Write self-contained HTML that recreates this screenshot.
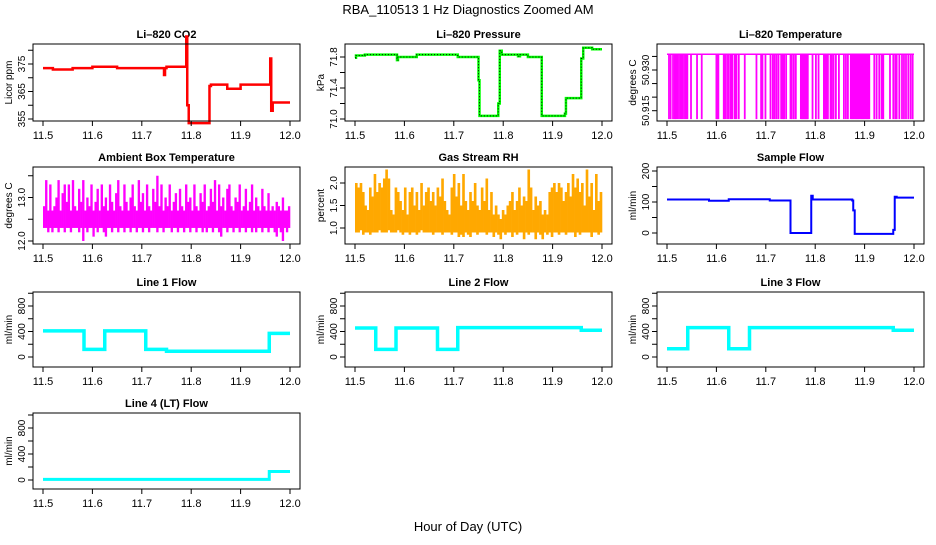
<!DOCTYPE html>
<html><head><meta charset="utf-8"><style>
body{margin:0;background:#fff}
svg text{font-family:"Liberation Sans",Arial,sans-serif}
</style></head><body>
<svg id="chart" width="936" height="540" viewBox="0 0 936 540" xmlns="http://www.w3.org/2000/svg">
<text x="468" y="14" font-size="13" text-anchor="middle">RBA_110513  1 Hz Diagnostics Zoomed AM</text>
<text x="468" y="531" font-size="13" text-anchor="middle">Hour of Day (UTC)</text>
</svg>
<script>
const xTicks = [11.5, 11.6, 11.7, 11.8, 11.9, 12.0];
const xTickLabels = ["11.5", "11.6", "11.7", "11.8", "11.9", "12.0"];

const co2T = [11.5,11.52,11.56,11.6,11.65,11.7,11.745,11.747,11.75,11.79,11.792,11.795,11.837,11.84,11.87,11.873,11.9,11.96,11.962,11.965,11.967];
const co2V = [373.5,373,373.5,374,373.5,373.5,371,373.5,374,385,360,353.5,367,367.5,367.5,366,367.5,377,358,361,361];

const presT = [11.5,11.502,11.52,11.585,11.587,11.59,11.625,11.708,11.75,11.752,11.79,11.793,11.797,11.83,11.834,11.85,11.875,11.878,11.925,11.927,11.958,11.962,11.98];
const presV = [71.79,71.82,71.83,71.76,71.80,71.80,71.83,71.80,71.5,71.04,71.2,71.88,71.83,71.81,71.83,71.80,71.80,71.04,71.07,71.27,71.78,71.92,71.90];

const tempTop = 50.9358;
const tempLow = 50.9119;
const tempDrops = [11.504,11.5074,11.5122,11.5155,11.5176,11.521,11.5243,11.5277,11.5311,11.5345,11.5378,11.5412,11.5486,11.5608,11.5703,11.600,11.602,11.604,11.6149,11.6176,11.6216,11.625,11.629,11.6324,11.6372,11.6405,11.6453,11.6574,11.6811,11.6905,11.6932,11.6993,11.7095,11.7142,11.7176,11.7216,11.7257,11.7311,11.7345,11.7372,11.7412,11.75,11.7527,11.7568,11.7608,11.771,11.773,11.775,11.777,11.779,11.781,11.783,11.785,11.7946,11.8014,11.8068,11.8176,11.8203,11.823,11.8257,11.8311,11.8338,11.8372,11.8419,11.848,11.8581,11.8622,11.8662,11.872,11.8745,11.877,11.8795,11.882,11.8845,11.887,11.8895,11.892,11.8945,11.897,11.8995,11.902,11.9045,11.907,11.9095,11.9196,11.9243,11.9297,11.9345,11.9378,11.9514,11.9581,11.9622,11.9649,11.9703,11.9757,11.9797,11.9838,11.9885,11.9932,11.9973];

const ambHi = [12.8,13.4,12.7,13.3,12.7,12.8,13.0,13.4,12.7,13.1,13.3,12.9,13.3,12.7,13.4,12.8,12.7,13.2,12.9,13.4,12.7,13.0,12.8,13.3,12.7,12.9,13.2,12.7,13.3,12.8,13.0,12.7,13.3,12.9,12.7,13.1,13.4,12.8,12.7,13.3,12.9,12.7,13.0,13.3,12.8,12.7,13.4,12.9,13.1,12.7,13.3,12.8,12.7,13.2,12.9,13.5,12.8,13.3,12.7,13.0,12.8,13.3,12.7,12.9,13.1,12.7,13.2,12.8,12.7,13.3,12.9,13.0,12.7,13.3,12.8,12.7,13.1,12.9,13.3,12.7,12.8,13.2,12.9,13.4,12.7,13.3,12.8,13.0,12.7,13.2,13.3,12.8,12.7,13.0,12.9,13.3,12.7,12.8,13.2,12.7,12.9,13.3,12.7,13.0,12.8,12.7,13.2,12.8,12.7,13.1,12.7,12.8,12.7,12.9,12.8,12.7,13.0,12.7,12.7,12.8];
const ambLo = [12.3,12.3,12.2,12.3,12.2,12.3,12.3,12.2,12.3,12.3,12.2,12.3,12.3,12.2,12.3,12.3,12.3,12.2,12.3,12.0,12.3,12.2,12.3,12.3,12.1,12.3,12.2,12.3,12.3,12.2,12.1,12.3,12.3,12.2,12.3,12.3,12.2,12.3,12.3,12.2,12.3,12.3,12.2,12.3,12.3,12.2,12.3,12.3,12.2,12.3,12.3,12.2,12.3,12.3,12.3,12.2,12.3,12.3,12.2,12.3,12.3,12.3,12.2,12.3,12.3,12.2,12.3,12.3,12.2,12.3,12.3,12.2,12.3,12.3,12.2,12.3,12.3,12.2,12.3,12.2,12.3,12.3,12.2,12.3,12.3,12.2,12.1,12.3,12.3,12.2,12.3,12.3,12.2,12.3,12.3,12.2,12.3,12.3,12.2,12.3,12.3,12.2,12.3,12.2,12.3,12.3,12.2,12.3,12.3,12.2,12.3,12.3,12.2,12.1,12.3,12.2,12.0,12.3,12.2,12.3];

const rhHi = [2.0,1.9,2.0,1.8,1.5,1.4,1.9,1.7,2.2,1.8,2.0,1.9,2.1,2.3,2.1,1.4,1.3,1.9,1.8,1.6,1.4,1.9,1.3,1.8,1.9,1.5,1.8,1.4,2.0,1.5,1.8,1.9,1.6,1.8,1.5,1.9,1.7,2.1,1.6,1.4,1.3,1.9,2.2,1.7,2.0,1.5,2.2,1.6,1.4,1.8,1.6,2.0,1.5,1.4,1.9,1.6,2.1,1.4,1.8,1.3,1.5,1.3,1.2,1.4,1.3,1.5,1.6,1.8,1.4,1.6,1.9,1.5,1.7,1.6,2.3,1.9,1.4,1.7,1.5,1.6,1.3,1.4,1.3,1.8,1.9,2.0,1.8,2.0,1.9,1.6,1.8,2.0,1.7,2.2,1.9,2.1,1.8,2.0,1.5,2.3,1.7,2.0,1.4,2.2,1.6,1.8];
const rhLo = [0.9,0.9,0.95,0.85,0.9,0.9,0.85,0.9,0.9,0.9,0.95,0.9,0.9,0.9,0.95,0.9,0.9,0.9,0.95,0.9,0.85,0.9,0.9,0.85,0.9,0.9,0.85,0.9,0.95,0.9,0.9,0.9,0.9,0.85,0.9,0.9,0.9,0.85,0.9,0.9,0.9,0.85,0.9,0.9,0.8,0.85,0.8,0.9,0.85,0.8,0.9,0.9,0.85,0.9,0.9,0.9,0.85,0.9,0.9,0.8,0.9,0.85,0.75,0.9,0.85,0.9,0.9,0.8,0.9,0.85,0.9,0.9,0.75,0.9,0.85,0.9,0.9,0.75,0.9,0.85,0.75,0.9,0.85,0.9,0.8,0.9,0.9,0.85,0.9,0.9,0.85,0.9,0.9,0.9,0.8,0.9,0.85,0.9,0.9,0.9,0.9,0.8,0.9,0.9,0.85,0.9];

const sfT = [11.5,11.585,11.625,11.708,11.75,11.792,11.795,11.875,11.877,11.88,11.958,11.961,11.965];
const sfV = [108,104,109,105,0,120,108,105,73,-3,10,117,114];

const l1T = [11.5,11.583,11.625,11.708,11.75,11.958];
const l1V = [410,120,410,120,90,370];
const l2T = [11.5,11.542,11.583,11.667,11.708,11.958];
const l2V = [455,120,455,120,460,420];
const l3T = [11.5,11.542,11.625,11.667,11.958];
const l3V = [130,460,130,460,420];
const l4T = [11.5,11.958];
const l4V = [10,130];

const NS = "http://www.w3.org/2000/svg";
const svg = document.getElementById('chart');
const colLeft = [33, 345, 657];
const rowBox = [[44,121],[167,244],[292,367],[413,489]];

function mk(tag, attrs, parent) {
  const e = document.createElementNS(NS, tag);
  for (const k in attrs) e.setAttribute(k, attrs[k]);
  (parent || svg).appendChild(e);
  return e;
}

function panel(cfg) {
  const L = colLeft[cfg.col], T = rowBox[cfg.row][0], B = rowBox[cfg.row][1];
  const g = mk('g', {});
  
  
  const xf = t => L + 10 + (t - 11.5) / 0.5 * 247;
  const yf = v => cfg.p1 + (v - cfg.v1) / (cfg.v2 - cfg.v1) * (cfg.p2 - cfg.p1);
  const cx = L + 133.5;
  const tt = mk('text', {x: cx, y: T - 6, 'font-size': 11, 'font-weight': 'bold', 'text-anchor': 'middle'}, g);
  tt.textContent = cfg.title;
  
  
  const marks = mk('g', {}, g);
  
  
  cfg.draw(marks, xf, yf);
  const box = mk('rect', {x: L, y: T, width: 267, height: B - T, fill: 'none', stroke: '#000', 'stroke-width': 1}, g);
  
  
  const xa = mk('g', {}, g);
  
  
  mk('line', {x1: xf(11.5), x2: xf(12.0), y1: B, y2: B, stroke: '#000'}, xa);
  xTicks.forEach((t, i) => {
    mk('line', {x1: xf(t), x2: xf(t), y1: B, y2: B + 5, stroke: '#000'}, xa);
    const lb = mk('text', {x: xf(t), y: B + 18, 'font-size': 11, 'text-anchor': 'middle'}, xa);
    lb.textContent = xTickLabels[i];
  });
  const ya = mk('g', {}, g);
  
  
  const yt = cfg.yTicks;
  mk('line', {x1: L, x2: L, y1: yf(yt[0]), y2: yf(yt[yt.length - 1]), stroke: '#000'}, ya);
  yt.forEach(v => {
    mk('line', {x1: L - 5, x2: L, y1: yf(v), y2: yf(v), stroke: '#000'}, ya);
  });
  cfg.yLabels.forEach((s, i) => {
    const v = cfg.yLabelVals[i];
    const lb = mk('text', {x: 0, y: 0, 'font-size': 10, 'text-anchor': 'middle', transform: `translate(${L - 8},${yf(v)}) rotate(-90)`}, ya);
    lb.textContent = s;
  });
  const yl = mk('text', {x: 0, y: 0, 'font-size': 10, 'text-anchor': 'middle', transform: `translate(${L - 21},${(T + B) / 2}) rotate(-90)`}, g);
  yl.textContent = cfg.ylab;
  
  
}

function stepPath(ts, vs, xf, yf) {
  let d = `M${xf(ts[0])},${yf(vs[0])}`;
  for (let i = 1; i < ts.length; i++) d += `H${xf(ts[i])}V${yf(vs[i])}`;
  d += `H${xf(12.0)}`;
  return d;
}
function stepLine(ts, vs, color, w, name) {
  return (g, xf, yf) => {
    const p = mk('path', {d: stepPath(ts, vs, xf, yf), fill: 'none', stroke: color, 'stroke-width': w}, g);
    
    
  };
}
function bins(lo, hi, fill, name) {
  return (g, xf, yf) => {
    const n = hi.length;
    const w = 247 / n;
    for (let i = 0; i < n; i++) {
      const t = 11.5 + i * 0.5 / n;
      const r = mk('rect', {x: xf(t), y: yf(hi[i]), width: w + 0.3, height: Math.max(1, yf(lo[i]) - yf(hi[i])), fill: fill}, g);
      
      
    }
  };
}
const flowTicks = [0,200,400,600,800,1000];

panel({name: 'co2', col: 0, row: 0, title: 'Li\u2013820 CO2', ylab: 'Licor ppm',
  v1: 355, p1: 119, v2: 375, p2: 64, yTicks: [355,360,365,370,375,380], yLabels: ['355','365','375'], yLabelVals: [355,365,375],
  draw: stepLine(co2T, co2V, '#FF0000', 2.5, 'co2-line')});
panel({name: 'pressure', col: 1, row: 0, title: 'Li\u2013820 Pressure', ylab: 'kPa',
  v1: 71.0, p1: 119, v2: 71.8, p2: 57, yTicks: [71.0,71.2,71.4,71.6,71.8], yLabels: ['71.0','71.4','71.8'], yLabelVals: [71.0,71.4,71.8],
  draw: (g, xf, yf) => {
    stepLine(presT, presV, '#00FF00', 2.5, 'pressure-line')(g, xf, yf);
    const p = mk('path', {d: stepPath(presT, presV, xf, yf), fill: 'none', stroke: '#000', 'stroke-width': 1, 'stroke-dasharray': '1,2'}, g);
    
    
  }});
panel({name: 'li820-temp', col: 2, row: 0, title: 'Li\u2013820 Temperature', ylab: 'degrees C',
  v1: 50.915, p1: 110.7, v2: 50.930, p2: 70, yTicks: [50.915,50.920,50.925,50.930,50.935], yLabels: ['50.915','50.930'], yLabelVals: [50.915,50.930],
  draw: (g, xf, yf) => {
    const top = mk('line', {x1: xf(11.5), x2: xf(12.0), y1: yf(tempTop), y2: yf(tempTop), stroke: '#FF00FF', 'stroke-width': 1.5}, g);
    
    
    tempDrops.forEach(t => {
      const l = mk('line', {x1: xf(t), x2: xf(t), y1: yf(tempTop), y2: yf(tempLow), stroke: '#FF00FF', 'stroke-width': 1.8}, g);
      
      
    });
  }});
panel({name: 'ambient-temp', col: 0, row: 1, title: 'Ambient Box Temperature', ylab: 'degrees C',
  v1: 12.0, p1: 241, v2: 13.0, p2: 197.5, yTicks: [12.0,12.5,13.0,13.5], yLabels: ['12.0','13.0'], yLabelVals: [12.0,13.0],
  draw: bins(ambLo, ambHi, '#FF00FF', 'ambient-temp-bin')});
panel({name: 'rh', col: 1, row: 1, title: 'Gas Stream RH', ylab: 'percent',
  v1: 1.0, p1: 228, v2: 2.0, p2: 183, yTicks: [1.0,1.5,2.0], yLabels: ['1.0','1.5','2.0'], yLabelVals: [1.0,1.5,2.0],
  draw: bins(rhLo, rhHi, '#FFA800', 'rh-bin')});
panel({name: 'sample-flow', col: 2, row: 1, title: 'Sample Flow', ylab: 'ml/min',
  v1: 0, p1: 233, v2: 200, p2: 171, yTicks: [0,50,100,150,200], yLabels: ['0','100','200'], yLabelVals: [0,100,200],
  draw: stepLine(sfT, sfV, '#0000FF', 2, 'sample-flow-line')});
panel({name: 'line1-flow', col: 0, row: 2, title: 'Line 1 Flow', ylab: 'ml/min',
  v1: 0, p1: 357, v2: 800, p2: 306, yTicks: flowTicks, yLabels: ['0','400','800'], yLabelVals: [0,400,800],
  draw: stepLine(l1T, l1V, '#00FFFF', 3.5, 'line1-flow-line')});
panel({name: 'line2-flow', col: 1, row: 2, title: 'Line 2 Flow', ylab: 'ml/min',
  v1: 0, p1: 357, v2: 800, p2: 306, yTicks: flowTicks, yLabels: ['0','400','800'], yLabelVals: [0,400,800],
  draw: stepLine(l2T, l2V, '#00FFFF', 3.5, 'line2-flow-line')});
panel({name: 'line3-flow', col: 2, row: 2, title: 'Line 3 Flow', ylab: 'ml/min',
  v1: 0, p1: 357, v2: 800, p2: 306, yTicks: flowTicks, yLabels: ['0','400','800'], yLabelVals: [0,400,800],
  draw: stepLine(l3T, l3V, '#00FFFF', 3.5, 'line3-flow-line')});
panel({name: 'line4-flow', col: 0, row: 3, title: 'Line 4 (LT) Flow', ylab: 'ml/min',
  v1: 0, p1: 480, v2: 800, p2: 428, yTicks: flowTicks, yLabels: ['0','400','800'], yLabelVals: [0,400,800],
  draw: stepLine(l4T, l4V, '#00FFFF', 3, 'line4-flow-line')});
</script>
</body></html>
